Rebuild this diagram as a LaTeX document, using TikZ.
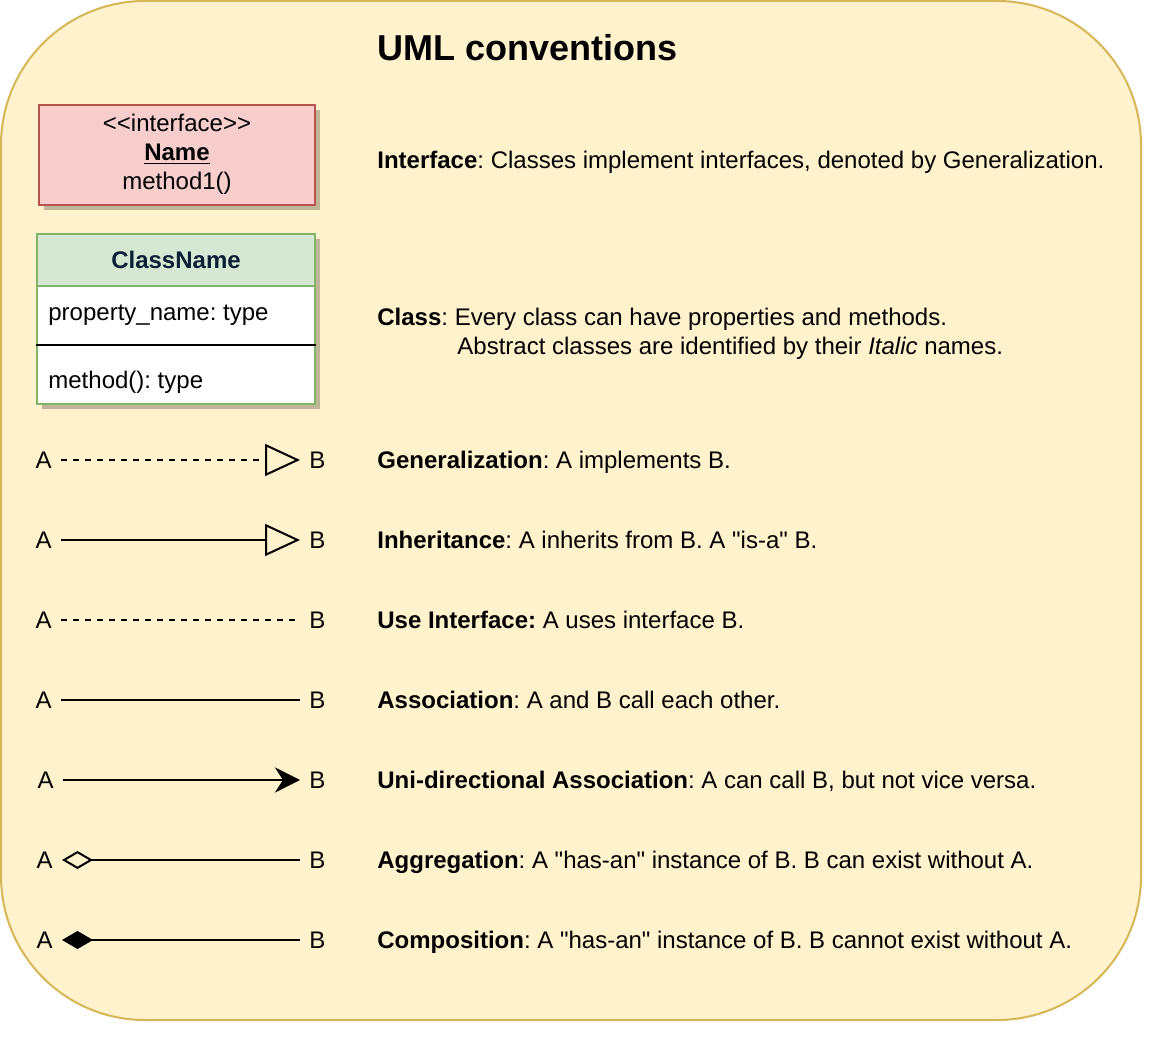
\documentclass[tikz,border=0pt]{standalone}
\usepackage{fontspec}
\setmainfont{Liberation Sans}[Ligatures=TeXOff]
\usetikzlibrary{positioning,arrows.meta,shadows}
\frenchspacing

\definecolor{noteFill}{HTML}{FFF2CC}
\definecolor{noteLine}{HTML}{D6B656}
\definecolor{ifaceFill}{HTML}{F8CECC}
\definecolor{ifaceLine}{HTML}{B85450}
\definecolor{classFill}{HTML}{D5E8D4}
\definecolor{classLine}{HTML}{82B366}
\definecolor{classText}{HTML}{0C1F35}

\tikzset{
  boxshadow/.style={drop shadow={shadow xshift=2.5pt, shadow yshift=-2.5pt, opacity=0.25, fill=black}},
  ifacebox/.style={rectangle, draw=ifaceLine, fill=ifaceFill, line width=1pt, boxshadow,
    minimum width=138pt, minimum height=50pt, inner sep=0pt, align=center},
  classbox/.style={rectangle, draw=classLine, fill=white, line width=1pt, boxshadow,
    minimum width=139pt, minimum height=85pt, inner sep=0pt},
  classhead/.style={rectangle, draw=classLine, fill=classFill, line width=1pt,
    minimum width=139pt, minimum height=26pt, inner sep=0pt, text=classText, font=\fontsize{12}{14.4}\selectfont\bfseries},
  letter/.style={inner xsep=4.5pt, inner ysep=0pt},
  note/.style={anchor=base west, inner sep=0pt},
  relline/.style={line width=1pt},
  genline/.style={relline, dash pattern=on 3pt off 3pt, -{Triangle[open, length=17.5pt, width=16pt]}},
  inhline/.style={relline, -{Triangle[open, length=17.5pt, width=16pt]}},
  useline/.style={relline, dash pattern=on 3pt off 3pt, shorten >=2pt},
  uniline/.style={relline, -{Stealth[length=12.5pt, width=12.5pt, inset=4pt]}},
  aggline/.style={relline, {Diamond[open, length=15.5pt, width=9pt]}-},
  compline/.style={relline, {Diamond[length=15.5pt, width=9pt]}-}
}

\begin{document}
\begin{tikzpicture}[x=0.5pt, y=-0.5pt, font=\fontsize{12}{14.4}\selectfont]
    \useasboundingbox (0,0) rectangle (1150,1052);
    \draw [draw=noteLine, fill=noteFill, line width=1pt, rounded corners=72pt] (1,1) rectangle (1141,1020);

    \node [anchor=base west, inner sep=0pt, font=\fontsize{18}{21.6}\selectfont\bfseries] (title) at (377,61) {UML conventions};

    % interface and class boxes
    \node [ifacebox, text depth=3pt] (iface) at (177,155) {<<interface>>\\\underline{\textbf{Name}}\\method1()};

    \node [classbox] (cls) at (176,319) {};
    \node [classhead, below=0pt of cls.north] (clsHead) {ClassName};
    \coordinate (sepY) at (0,345);
    \draw [line width=1pt] (cls.west |- sepY) -- (cls.east |- sepY);
    \node [note] (prop) at (48,321) {property\_name: type};
    \node [note] (meth) at (48,389) {method(): type};

    \node [note] (ifaceText) at (377,168.5) {\textbf{Interface}: Classes implement interfaces, denoted by Generalization.};
    \node [anchor=west, inner sep=0pt, align=left] (clsText) at (377,334) {\textbf{Class}: Every class can have properties and methods.\\\hspace*{40pt}Abstract classes are identified by their \textit{Italic} names.};

    % relations
    \node [letter, anchor=east] (genA) at (61,460) {A};
    \node [letter, anchor=west] (genB) at (300,460) {B};
    \draw [genline] (genA) -- (genB);
    \node [note] (genText) at (377,468.5) {\textbf{Generalization}: A implements B.};

    \node [letter, anchor=east] (inhA) at (61,540) {A};
    \node [letter, anchor=west] (inhB) at (300,540) {B};
    \draw [inhline] (inhA) -- (inhB);
    \node [note] (inhText) at (377,548.5) {\textbf{Inheritance}: A inherits from B. A "is-a" B.};

    \node [letter, anchor=east] (useA) at (61,620) {A};
    \node [letter, anchor=west] (useB) at (300,620) {B};
    \draw [useline] (useA) -- (useB);
    \node [note] (useText) at (377,628.5) {\textbf{Use Interface:} A uses interface B.};

    \node [letter, anchor=east] (assocA) at (61,700) {A};
    \node [letter, anchor=west] (assocB) at (300,700) {B};
    \draw [relline] (assocA) -- (assocB);
    \node [note] (assocText) at (377,708.5) {\textbf{Association}: A and B call each other.};

    \node [letter, anchor=east] (uniA) at (63,780) {A};
    \node [letter, anchor=west] (uniB) at (300,780) {B};
    \draw [uniline] (uniA) -- (uniB);
    \node [note] (uniText) at (377,788.5) {\textbf{Uni-directional Association}: A can call B, but not vice versa.};

    \node [letter, anchor=east] (aggA) at (62,860) {A};
    \node [letter, anchor=west] (aggB) at (300,860) {B};
    \draw [aggline] (aggA) -- (aggB);
    \node [note] (aggText) at (377,868.5) {\textbf{Aggregation}: A "has-an" instance of B. B can exist without A.};

    \node [letter, anchor=east] (compA) at (62,940) {A};
    \node [letter, anchor=west] (compB) at (300,940) {B};
    \draw [compline] (compA) -- (compB);
    \node [note] (compText) at (377,948.5) {\textbf{Composition}: A "has-an" instance of B. B cannot exist without A.};
\end{tikzpicture}
\end{document}
